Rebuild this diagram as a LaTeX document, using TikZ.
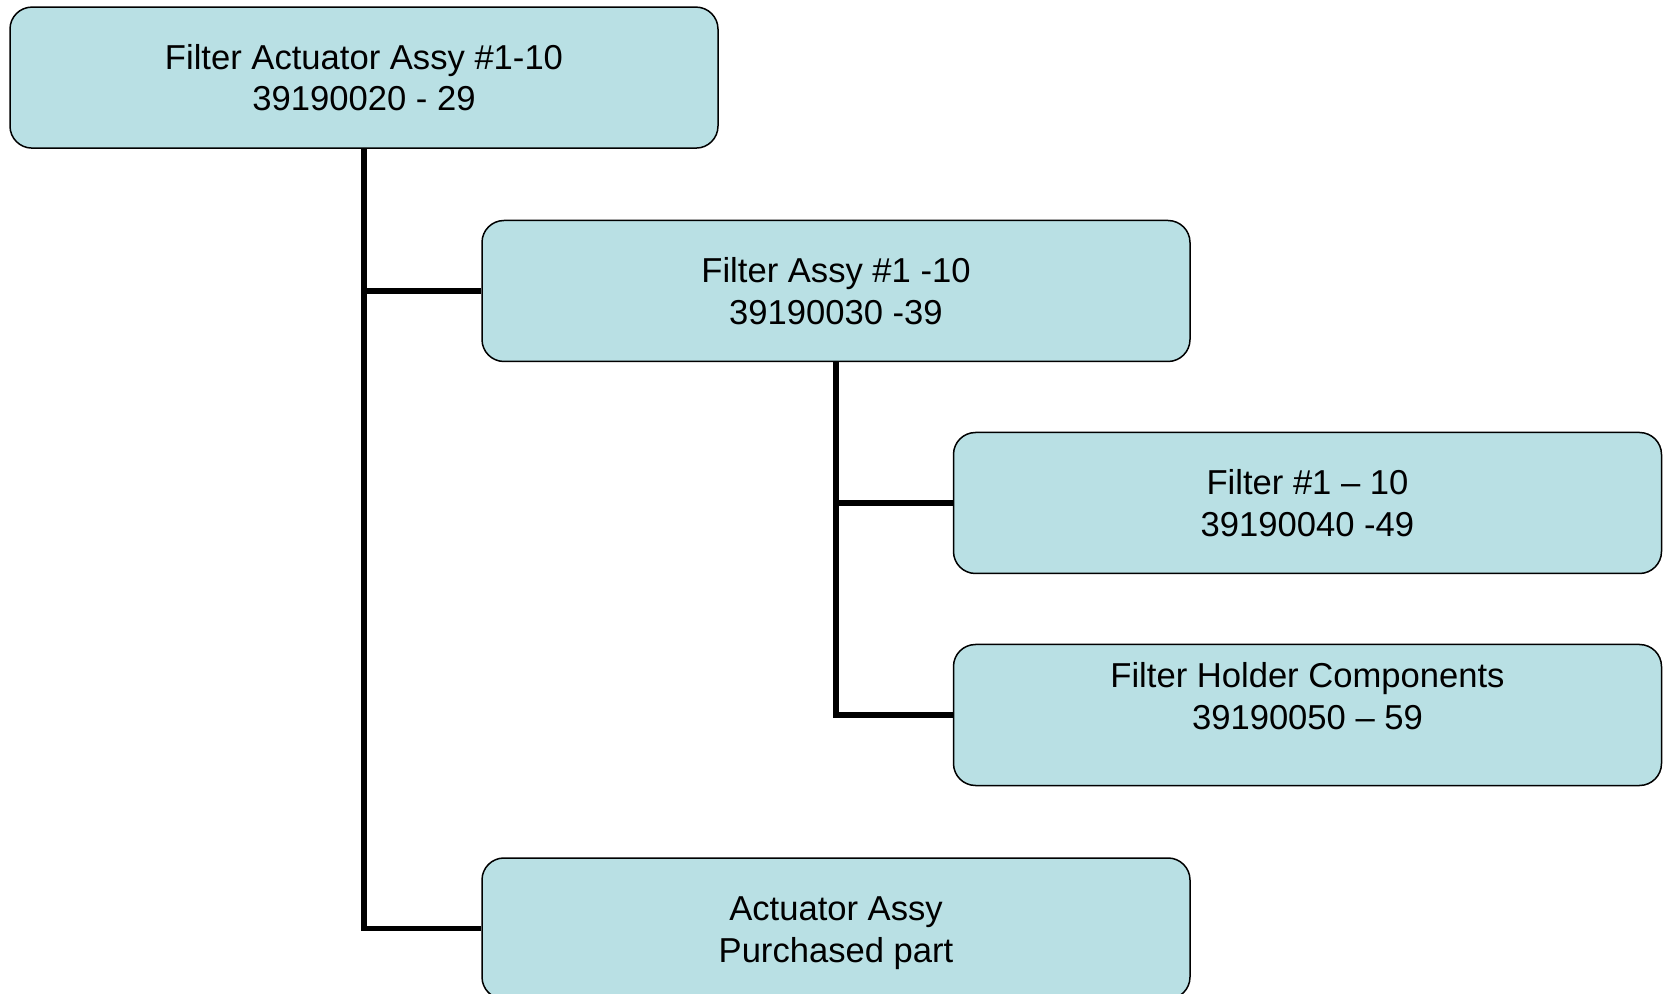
\documentclass[tikz,border=0pt]{standalone}
\usepackage{fontspec}
\setmainfont{Liberation Sans}
\definecolor{partcyan}{RGB}{185,224,228}
\tikzstyle{partBox} = [
 rectangle,
 draw=black,
 line width=0.75pt,
 fill=partcyan,
 rounded corners=11pt,
 minimum width=354pt,
 minimum height=70.5pt,
 align = center,
 font=\fontsize{17.3pt}{20.75pt}\selectfont
]
\tikzstyle{partText} = [
 align = center,
 font=\fontsize{17.3pt}{20.75pt}\selectfont
]
\tikzstyle{link} = [
 draw=black,
 line width=2.8pt
]
\begin{document}
\begin{tikzpicture}[x=0.5pt,y=-0.5pt]
  \useasboundingbox (0,0) rectangle (1667,994);
  % boxes
  \node [partBox] (root) at (364,77.6) {Filter Actuator Assy \#1-10 \\ 39190020 - 29};
  \node [partBox] (assy) at (836,291) {Filter Assy \#1 -10 \\ 39190030 -39};
  \node [partBox] (filter) at (1307.5,503) {Filter \#1 – 10 \\ 39190040 -49};
  \node [partBox] (holder) at (1307.5,715) {};
  \node [partText] (holdertext) at (1307.5,696) {Filter Holder Components \\ 39190050 – 59};
  \node [partBox] (actuator) at (836,928.5) {};
  \node [partText] (actuatortext) at (836,933) {Actuator Assy \\ Purchased part};
  % connectors
  \draw [link] (root.south) |- (actuator.west);
  \draw [link] (root.south |- assy.west) -- (assy.west);
  \draw [link] (assy.south) |- (holder.west);
  \draw [link] (assy.south |- filter.west) -- (filter.west);
\end{tikzpicture}
\end{document}
